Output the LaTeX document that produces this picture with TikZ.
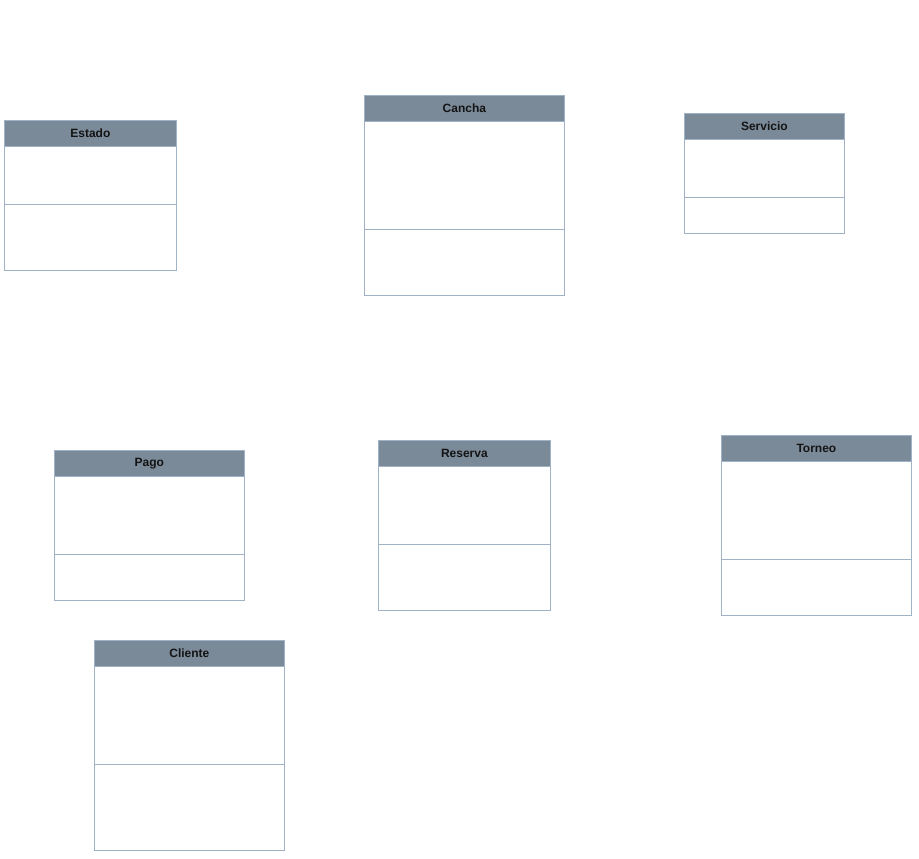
\documentclass[tikz,border=0pt]{standalone}
\usepackage{fontspec}
\setmainfont{Liberation Sans}
\usetikzlibrary{backgrounds}
\definecolor{hdr}{RGB}{123,138,153}
\definecolor{bord}{RGB}{160,178,198}
\definecolor{connc}{RGB}{242,242,242}
\definecolor{txt}{RGB}{20,20,20}
\tikzset{
  classbox/.style={draw=bord, line width=0.8pt, fill=white, anchor=north west, inner sep=0pt},
  headbox/.style={draw=bord, line width=0.8pt, fill=hdr, anchor=north west, inner sep=0pt, minimum height=26pt, text=txt, font=\fontsize{12}{14}\selectfont\bfseries},
  divline/.style={draw=bord, line width=0.8pt},
  conn/.style={draw=connc, line width=1pt}
}
\newcommand{\umlclass}[7]{%
  \node[classbox, minimum width=#4pt, minimum height=#5pt] (#1) at (#2,#3) {};
  \node[headbox, minimum width=#4pt] (#1h) at (#1.north west) {#7};
  \draw[divline] ([yshift=-#6pt]#1.north west) -- ([yshift=-#6pt]#1.north east);
}
\begin{document}
\begin{tikzpicture}[x=1pt,y=-1pt]
\useasboundingbox[fill=white] (0,0) rectangle (919,859);
\umlclass{estado}{4}{120}{172}{150}{84}{Estado}
\umlclass{cancha}{364}{95}{200}{200}{134}{Cancha}
\umlclass{servicio}{684}{113}{160}{120}{84}{Servicio}
\umlclass{pago}{54}{450}{190}{150}{104}{Pago}
\umlclass{reserva}{378}{440}{172}{170}{104}{Reserva}
\umlclass{torneo}{721}{435}{190}{180}{124}{Torneo}
\umlclass{cliente}{94}{640}{190}{210}{124}{Cliente}
\begin{scope}[on background layer]
\draw[conn] ([yshift=-78pt]estado.north east) -- ([yshift=-103pt]cancha.north west);
\draw[conn] ([yshift=-123pt]estado.north east) -- ++(131,0) |- ([yshift=-13pt]reserva.north west);
\draw[conn] ([xshift=102pt]cancha.south west) -- ([xshift=88pt]reserva.north west);
\draw[conn] ([yshift=-82pt]cancha.north east) -- ([yshift=-64pt]servicio.north west);
\draw[conn] ([yshift=-78pt]pago.north east) -- ([yshift=-88pt]reserva.north west);
\draw[conn] ([yshift=-88pt]reserva.north east) -- ([yshift=-93pt]torneo.north west);
\draw[conn] ([xshift=88pt]reserva.south west) |- ([yshift=-62pt]cliente.north east);
\draw[conn] ([xshift=143pt]estado.south west) -- ([xshift=93pt]pago.north west);
\end{scope}
\end{tikzpicture}
\end{document}
